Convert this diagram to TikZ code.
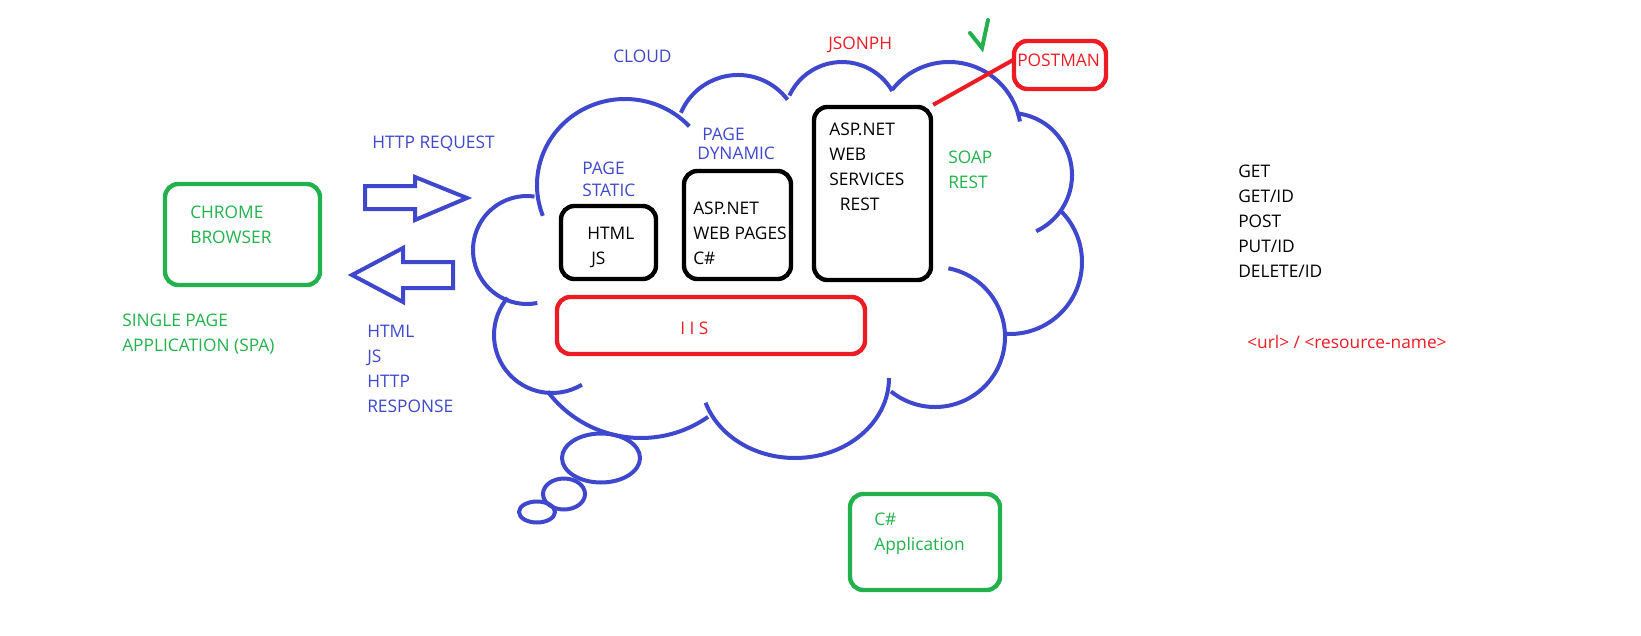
\documentclass[tikz,border=0pt]{standalone}
\usepackage{fontspec}
\setmainfont{Open Sans}
\usepackage{xcolor}
\usetikzlibrary{fit}
\definecolor{paintblue}{RGB}{63,72,204}
\definecolor{paintred}{RGB}{237,28,36}
\definecolor{paintgreen}{RGB}{34,177,76}

\begin{document}
\begin{tikzpicture}[x=0.75pt,y=-0.75pt,
    every node/.style={inner sep=0pt,font=\fontsize{13}{18.75}\selectfont},
    txt/.style={anchor=north west,align=left},
    pane/.style={draw,rounded corners=10pt,line width=3.3pt},
    cloudline/.style={draw=paintblue,line width=3pt}]
  \useasboundingbox (0,0) rectangle (1641,635);

  % cloud outline, one arc per lobe
  \foreach \cx/\cy/\rx/\ry/\a/\b in {625/185/88/86/159/317, 738/137/62/62/203/323,
      842/120/58/58/205/330, 949/134/72/72/218/350, 1010/175/62/62/276/425,
      1010/262/72/72/314/455, 935/337/70/70/281/489, 795/378/94/80/0/162,
      641/321/117/117/55/143, 552/335/58/58/59/220, 527/250/54/54/79/278}
    \draw[cloudline] ({\cx+\rx*cos(\a)},{\cy+\ry*sin(\a)}) arc[start angle=\a,end angle=\b,x radius=\rx,y radius=\ry];
  \draw[cloudline] (601,458) ellipse [x radius=39,y radius=24.5];
  \draw[cloudline] (564,494) ellipse [x radius=21,y radius=15.5];
  \draw[cloudline] (537,512) ellipse [x radius=18,y radius=10.5];

  \node[pane,draw=paintgreen,fit={(165,184) (320,285)}] (chrome) {};
  \node[pane,fit={(561,206) (656,279)}] (staticbox) {};
  \node[pane,fit={(684,171) (791,279)}] (dynamicbox) {};
  \node[pane,fit={(814,107) (931,280)}] (servicebox) {};
  \node[pane,draw=paintred,fit={(557,297) (865,354)}] (iisbox) {};
  \node[pane,draw=paintred,fit={(1014,41) (1106,89)}] (postman) {};
  \node[pane,draw=paintgreen,fit={(850,494) (1000,590)}] (appbox) {};

  \draw[paintred,line width=3pt] (servicebox.north east) -- ([shift={(3,-6)}]postman.west);

  % request / response arrows
  \draw[paintblue,line width=3pt] (365,186) -- (415,186) -- (415,177) -- (467,198)
    -- (415,220) -- (415,209) -- (365,209) -- cycle;
  \draw[paintblue,line width=3pt] (453,262) -- (403,262) -- (403,248) -- (352,275)
    -- (403,302) -- (403,288) -- (453,288) -- cycle;
  \draw[paintgreen,line width=3pt,line cap=round] (970,33) -- (982,48) -- (988,20);

  \node[txt,text=paintblue] (cloudlbl) at (613,50) {CLOUD};
  \node[txt,text=paintred] (jsonph) at (828,37) {JSONPH};
  \node[txt,text=paintblue] (httpreq) at (372,136) {HTTP REQUEST};
  \node[txt,text=paintgreen] (chromelbl) at (190,206) {CHROME\\BROWSER};
  \node[txt,text=paintgreen] (spa) at (122,314) {SINGLE PAGE\\APPLICATION (SPA)};
  \node[txt,text=paintblue] (resp) at (367,325) {HTML\\JS\\HTTP\\RESPONSE};
  \node[txt,text=paintblue] (staticlbl) at (582,162) {PAGE\\[-2.25pt]STATIC};
  \node[txt,text=paintblue] (dynamiclbl) at (697,128) {\hspace{3.75pt}PAGE\\[-4.5pt]DYNAMIC};
  \node[txt] (staticitems) at (587,227) {HTML\\\hspace{3pt}JS};
  \node[txt] (dynamicitems) at (693,202) {ASP.NET\\WEB PAGES\\C\#};
  \node[txt] (serviceitems) at (829,123) {ASP.NET\\WEB\\SERVICES\\\hspace{8pt}REST};
  \node[txt,text=paintgreen] (soap) at (948,151) {SOAP\\REST};
  \node[txt,text=paintred] (iislbl) at (680,322) {I I S};
  \node[txt,text=paintred] (postmanlbl) at (1017,54) {POSTMAN};
  \node[txt] (verbs) at (1238,165) {GET\\GET/ID\\POST\\PUT/ID\\DELETE/ID};
  \node[anchor=west,text=paintred] (urlfmt) at (1247,342) {<url> / <resource-name>};
  \node[txt,text=paintgreen] (apptxt) at (874,513) {C\#\\Application};
\end{tikzpicture}
\end{document}
